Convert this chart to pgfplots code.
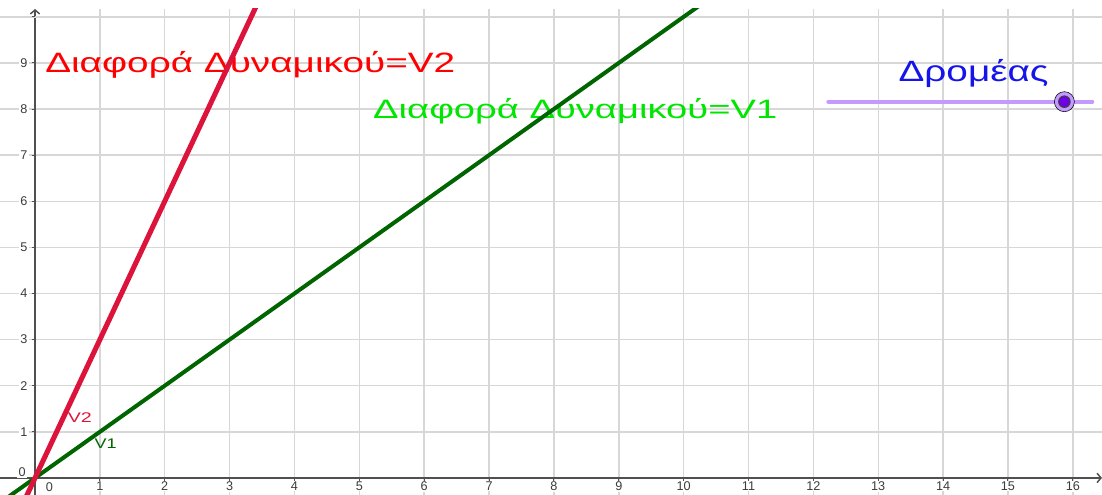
\documentclass[border=0pt]{standalone}
\usepackage{fontspec}
\setmainfont{Liberation Sans}
\usepackage{graphicx}
\usepackage{pgfplots}
\pgfplotsset{compat=1.18}
\usetikzlibrary{arrows.meta}
\definecolor{gridgray}{RGB}{215,215,215}
\definecolor{axisgray}{RGB}{80,80,80}
\definecolor{labelgray}{RGB}{60,60,60}
\definecolor{vred}{RGB}{220,20,60}
\definecolor{vgreen}{RGB}{0,100,0}
\definecolor{lblred}{RGB}{255,0,0}
\definecolor{lblgreen}{RGB}{0,230,0}
\definecolor{lblblue}{RGB}{20,20,235}
\definecolor{sliderc}{RGB}{195,155,255}
\definecolor{dotpurple}{RGB}{110,0,230}
\begin{document}
\begin{tikzpicture}
\begin{axis}[
  name=ax,
  scale only axis,
  width=826.5pt, height=364.5pt,
  xmin=-0.54, xmax=16.45, ymin=-0.37, ymax=10.17,
  axis lines=middle,
  axis line style={axisgray, line width=1.1pt},
  x axis line style={-{Straight Barb[length=3pt,width=7pt]}},
  y axis line style={-{Straight Barb[length=3pt,width=7pt]}},
  xtick={1,...,16},
  ytick={1,...,9},
  extra y ticks={10},
  extra y tick labels={},
  extra y tick style={yticklabel style={fill=none}},
  grid=major,
  grid style={gridgray, line width=1.1pt},
  tick style={axisgray, line width=0.8pt},
  tick align=outside,
  major tick length=2.5pt,
  /pgf/number format/assume math mode=true,
  tick label style={font=\fontsize{9.5}{11}\selectfont, text=labelgray},
  xticklabel style={fill=white, inner sep=0.5pt, yshift=0.2pt},
  yticklabel style={fill=white, inner sep=1pt, xshift=-2pt},
  clip=true,
]
% big labels (drawn first so lines lie over them)
\node[anchor=base west, text=lblred, inner sep=0pt] at (axis cs:0.154,8.79)
  {\resizebox{307.5pt}{\height}{\fontsize{21}{24}\selectfont Διαφορά Δυναμικού=V2}};
\node[anchor=base west, text=lblgreen, inner sep=0pt] at (axis cs:5.21,7.79)
  {\resizebox{303pt}{\height}{\fontsize{20}{24}\selectfont Διαφορά Δυναμικού=V1}};
\node[anchor=base west, text=lblblue, inner sep=0pt] at (axis cs:13.31,8.59)
  {\resizebox{112.5pt}{\height}{\fontsize{22}{26}\selectfont Δρομέας}};
\node[text=vred, inner sep=0pt] at (axis cs:0.69,1.30)
  {\resizebox{18pt}{\height}{\fontsize{10.5}{12}\selectfont V2}};
\node[text=vgreen, inner sep=0pt] at (axis cs:1.09,0.74)
  {\resizebox{16.5pt}{\height}{\fontsize{10.5}{12}\selectfont V1}};
% origin labels
\node[text=labelgray, fill=white, inner sep=1pt] at (axis cs:-0.2,0.12) {\fontsize{9.5}{11}\selectfont 0};
\node[text=labelgray, fill=white, inner sep=0.5pt] at (axis cs:0.22,-0.21) {\fontsize{9.5}{11}\selectfont 0};
% V1: y = x
\addplot[vgreen, line width=3pt] coordinates {(-1,-1) (10.6,10.6)};
% V2: y = 3x
\addplot[vred, line width=3.8pt] coordinates {(-0.3,-0.9) (3.6,10.8)};
% slider
\addplot[sliderc, line width=3pt, line cap=round] coordinates {(12.23,8.16) (16.30,8.16)};
\addplot[only marks, mark=*, mark size=7.5pt, mark options={fill=sliderc, draw=none}] coordinates {(15.87,8.16)};
\addplot[only marks, mark=*, mark size=4.3pt, mark options={fill=dotpurple, draw=black!75, line width=0.8pt}] coordinates {(15.87,8.16)};
\end{axis}
\pgfresetboundingbox
\path (ax.south west) rectangle ([yshift=6.75pt]ax.north east);
\end{tikzpicture}
\end{document}
